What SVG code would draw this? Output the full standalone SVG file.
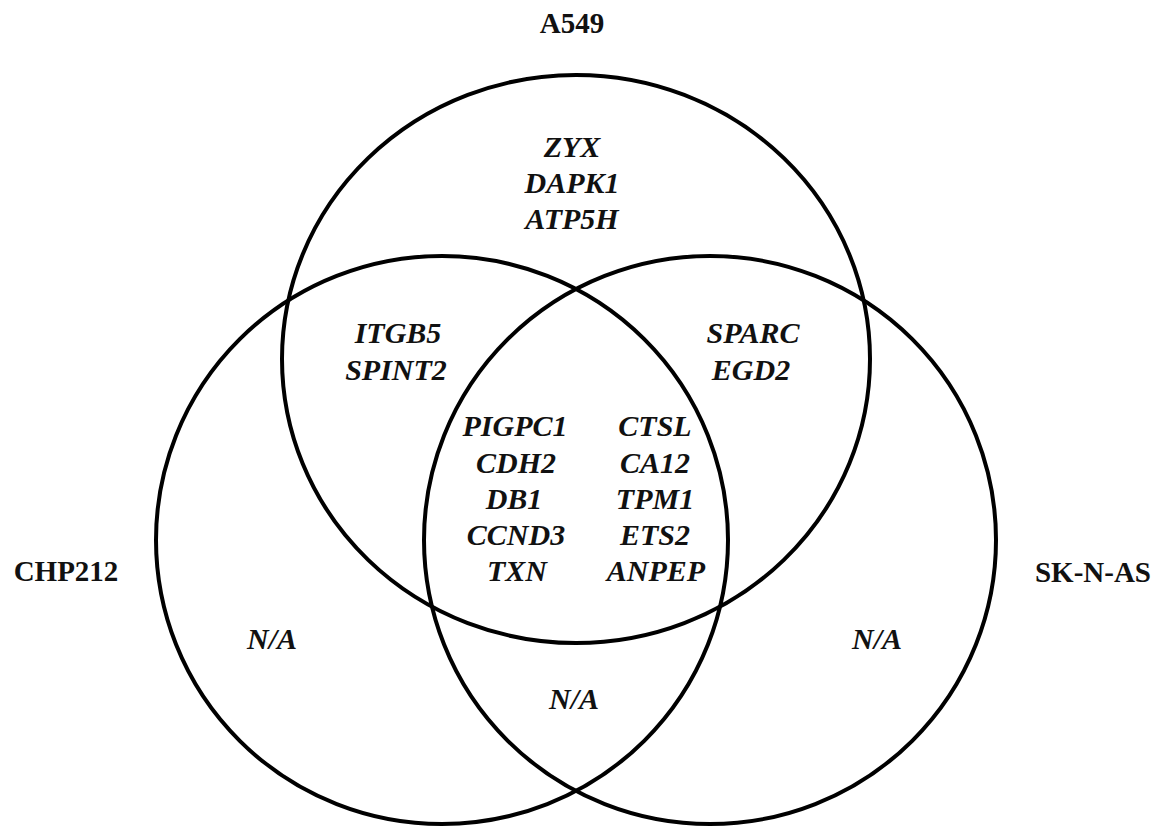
<svg xmlns="http://www.w3.org/2000/svg" width="1166" height="827" viewBox="0 0 1166 827">
<style>
.set{fill:none;stroke:#000;stroke-width:4}
.lbl{font-family:"Liberation Serif","Times New Roman",serif;font-weight:bold;font-size:29px;fill:#111;text-anchor:middle}
.gene{font-family:"Liberation Serif","Times New Roman",serif;font-weight:bold;font-style:italic;font-size:30px;fill:#111;text-anchor:middle}
</style>
<rect width="1166" height="827" fill="#fff"/>
<g id="set-a549">
<ellipse class="set" cx="576" cy="359" rx="294" ry="284"/>
<text class="lbl" x="572" y="33">A549</text>
</g>
<g id="set-chp212">
<ellipse class="set" cx="442" cy="540" rx="286" ry="284"/>
<text class="lbl" x="66" y="581">CHP212</text>
</g>
<g id="set-sknas">
<ellipse class="set" cx="710" cy="540" rx="286" ry="284"/>
<text class="lbl" x="1093" y="582">SK-N-AS</text>
</g>
<g id="only-a549">
<text class="gene" x="572" y="157">ZYX</text>
<text class="gene" x="572" y="193">DAPK1</text>
<text class="gene" x="572" y="229">ATP5H</text>
</g>
<g id="a549-chp212">
<text class="gene" x="398" y="343">ITGB5</text>
<text class="gene" x="396" y="380">SPINT2</text>
</g>
<g id="a549-sknas">
<text class="gene" x="753" y="343">SPARC</text>
<text class="gene" x="751" y="380">EGD2</text>
</g>
<g id="all-three">
<text class="gene" x="515" y="436">PIGPC1</text>
<text class="gene" x="516" y="473">CDH2</text>
<text class="gene" x="514" y="509">DB1</text>
<text class="gene" x="516" y="545">CCND3</text>
<text class="gene" x="517" y="581">TXN</text>
<text class="gene" x="655" y="436">CTSL</text>
<text class="gene" x="655" y="473">CA12</text>
<text class="gene" x="655" y="509">TPM1</text>
<text class="gene" x="655" y="545">ETS2</text>
<text class="gene" x="656" y="581">ANPEP</text>
</g>
<g id="only-chp212"><text class="gene" x="272" y="649">N/A</text></g>
<g id="only-sknas"><text class="gene" x="877" y="649">N/A</text></g>
<g id="chp212-sknas"><text class="gene" x="574" y="709">N/A</text></g>
<g id="connectors"></g>
</svg>
